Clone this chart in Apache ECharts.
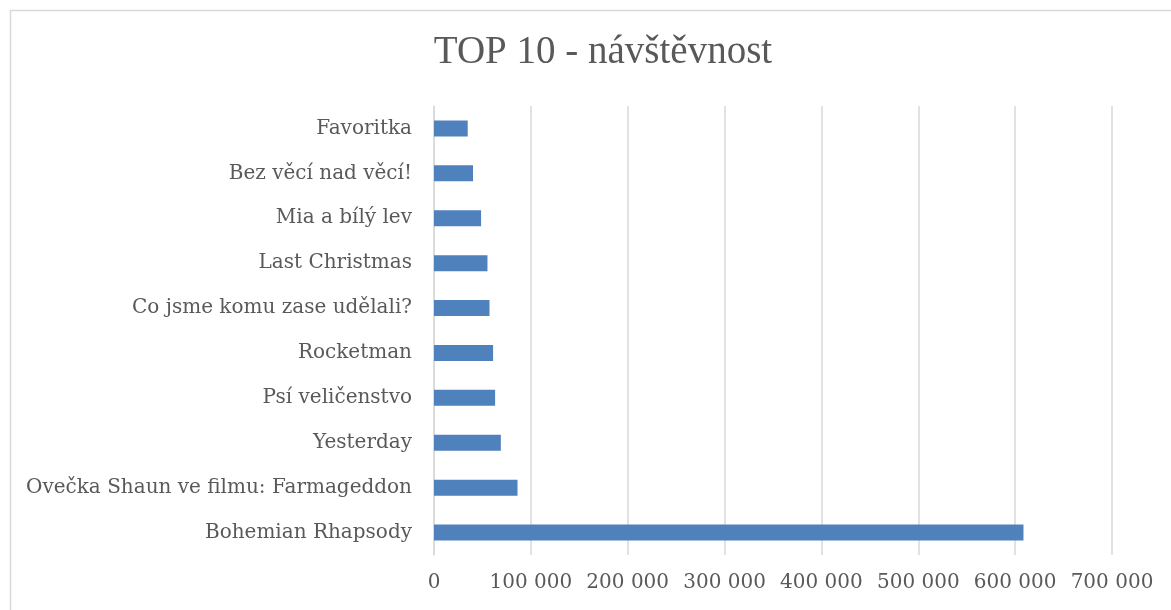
<!DOCTYPE html>
<html>
<head>
<meta charset="utf-8">
<script src="https://cdn.jsdelivr.net/npm/echarts@6/dist/echarts.min.js"></script>
<style>
  html, body { margin: 0; padding: 0; background: #fff; }
  #main { width: 1171px; height: 610px; }
</style>
</head>
<body>
<div id="main"></div>
<script>
// filmy odspodu nahoru (jak je kreslí kategoriová osa)
var films = [
  'Bohemian Rhapsody',
  'Ovečka Shaun ve filmu: Farmageddon',
  'Yesterday',
  'Psí veličenstvo',
  'Rocketman',
  'Co jsme komu zase udělali?',
  'Last Christmas',
  'Mia a bílý lev',
  'Bez věcí nad věcí!',
  'Favoritka'
];
var visitors = [608600, 86200, 69000, 63100, 61000, 57300, 55200, 48600, 40300, 34800];
var xTicks = [0, 100000, 200000, 300000, 400000, 500000, 600000, 700000];

var titleFont = '"Liberation Serif", serif';
var font = '"DejaVu Serif", serif';
var textColor = '#595959';
var gridColor = '#d9d9d9';

var myChart = echarts.init(document.getElementById('main'));
myChart.setOption({
  animation: false,
  title: {
    text: 'TOP 10 - návštěvnost',
    left: 598,
    textAlign: 'center',
    top: 28,
    textStyle: { fontFamily: titleFont, fontSize: 39, fontWeight: 'normal', color: textColor }
  },
  graphic: [{
    type: 'rect',
    shape: { x: 10.5, y: 10.5, width: 1170, height: 640 },
    style: { fill: null, stroke: gridColor, lineWidth: 1.5 },
    silent: true
  }],
  grid: { left: 434, right: 59, top: 106, bottom: 55 },
  xAxis: {
    type: 'value',
    min: xTicks[0],
    max: xTicks[xTicks.length - 1],
    interval: 100000,
    axisLine: { show: false },
    axisTick: { show: false },
    splitLine: { lineStyle: { color: gridColor, width: 1.5 } },
    axisLabel: {
      margin: 18,
      fontFamily: font,
      fontSize: 20,
      color: textColor,
      formatter: function (v) {
        return String(v).replace(/\B(?=(\d{3})+(?!\d))/g, ' ');
      }
    }
  },
  yAxis: {
    type: 'category',
    data: films,
    axisLine: { show: true, lineStyle: { color: gridColor, width: 1.5 } },
    axisTick: { show: false },
    axisLabel: { margin: 22, fontFamily: font, fontSize: 20, color: textColor }
  },
  series: [{
    type: 'bar',
    data: visitors,
    barWidth: 16,
    itemStyle: { color: '#4f81bd' }
  }]
});
</script>
</body>
</html>
